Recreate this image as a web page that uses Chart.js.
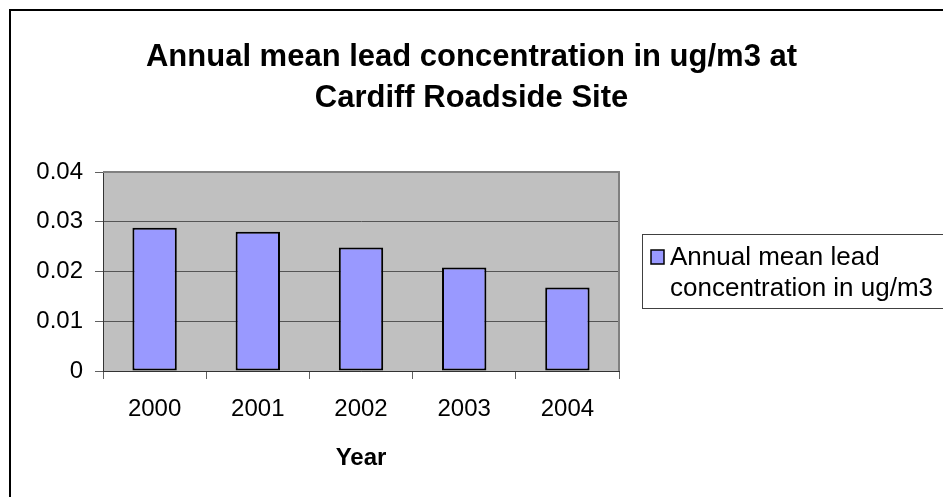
<!DOCTYPE html>
<html>
<head>
<meta charset="utf-8">
<title>Annual mean lead concentration</title>
<script src="https://cdn.jsdelivr.net/npm/chart.js@4.4.0/dist/chart.umd.min.js"></script>
<style>
  html, body { margin: 0; padding: 0; background: #fff; }
  #wrap { width: 943px; height: 497px; }
</style>
</head>
<body>
<div id="wrap"><canvas id="grafico" width="943" height="497"></canvas></div>
<script>
// Data
const years = ['2000', '2001', '2002', '2003', '2004'];
const leadValues = [0.0288, 0.028, 0.0248, 0.0208, 0.0168];
const yTickLabels = ['0', '0.01', '0.02', '0.03', '0.04'];
const titleLines = ['Annual mean lead concentration in ug/m3 at', 'Cardiff Roadside Site'];
const seriesName = 'Annual mean lead concentration in ug/m3';
const legendLines = ['Annual mean lead', 'concentration in ug/m3'];
const xTitle = 'Year';

const FONT = "'Liberation Sans', Arial, Helvetica, sans-serif";
const barColor = '#9999ff';

// Outer frame, title and grey plot area
const framePlugin = {
    id: 'frame',
    beforeDraw(chart) {
        const ctx = chart.ctx;
        const a = chart.chartArea;
        ctx.save();
        ctx.fillStyle = '#fff';
        ctx.fillRect(0, 0, chart.width, chart.height);
        ctx.strokeStyle = '#000';
        ctx.lineWidth = 2;
        ctx.strokeRect(10, 10, chart.width + 20, chart.height + 20);
        ctx.fillStyle = '#c0c0c0';
        ctx.fillRect(a.left, a.top, a.right - a.left, a.bottom - a.top);

        // title centred on the whole picture, not on the plot
        ctx.fillStyle = '#000';
        ctx.font = 'bold 31px ' + FONT;
        ctx.textAlign = 'center';
        ctx.textBaseline = 'middle';
        ctx.fillText(titleLines[0], chart.width / 2, 57);
        ctx.fillText(titleLines[1], chart.width / 2, 98);
        ctx.restore();
    },
    beforeDatasetsDraw(chart) {
        const ctx = chart.ctx;
        const a = chart.chartArea;
        ctx.save();
        ctx.strokeStyle = '#808080';
        ctx.lineWidth = 2;
        ctx.beginPath();
        ctx.moveTo(a.left, a.top);
        ctx.lineTo(a.right, a.top);
        ctx.lineTo(a.right, a.bottom);
        ctx.stroke();
        ctx.restore();
    }
};

// Legend box on the right, Excel style
const legendPlugin = {
    id: 'legendBox',
    afterDraw(chart) {
        const ctx = chart.ctx;
        const ds = chart.data.datasets[0];
        ctx.save();
        ctx.strokeStyle = '#404040';
        ctx.lineWidth = 1;
        ctx.strokeRect(642.5, 234.5, 400, 74);
        ctx.fillStyle = ds.backgroundColor;
        ctx.fillRect(651, 250, 13, 14);
        ctx.strokeStyle = '#000';
        ctx.lineWidth = 1.5;
        ctx.strokeRect(651, 250, 13, 14);
        ctx.fillStyle = '#000';
        ctx.font = '26px ' + FONT;
        ctx.textBaseline = 'middle';
        ctx.fillText(legendLines[0], 670, 258);
        ctx.fillText(legendLines[1], 670, 289);
        ctx.restore();
    }
};

const ctx = document.getElementById('grafico').getContext('2d');
const grafico = new Chart(ctx, {
    type: 'bar',
    data: {
        labels: years,
        datasets: [{
            label: seriesName,
            data: leadValues,
            backgroundColor: barColor,
            borderColor: '#000',
            borderWidth: 2,
            borderSkipped: false,
            barPercentage: 0.43,
            categoryPercentage: 1
        }]
    },
    options: {
        responsive: false,
        devicePixelRatio: 1,
        animation: false,
        layout: {
            padding: { left: 0, right: 324, top: 172, bottom: 20 }
        },
        plugins: {
            legend: { display: false },
            tooltip: { enabled: false },
            title: { display: false }
        },
        scales: {
            x: {
                grid: {
                    offset: true,
                    drawOnChartArea: false,
                    tickLength: 8,
                    tickColor: '#606060'
                },
                border: { color: '#333', width: 1 },
                ticks: {
                    color: '#000',
                    font: { family: FONT, size: 24 },
                    padding: 16,
                    maxRotation: 0
                },
                title: {
                    display: true,
                    text: xTitle,
                    color: '#000',
                    font: { family: FONT, size: 24, weight: 'bold' },
                    padding: { top: 14 }
                },
                afterFit(scale) { scale.height = 106; }
            },
            y: {
                min: 0,
                max: 0.04,
                grid: {
                    color: '#555',
                    tickLength: 8,
                    tickColor: '#606060'
                },
                border: { color: '#333', width: 1 },
                ticks: {
                    stepSize: 0.01,
                    color: '#000',
                    font: { family: FONT, size: 24 },
                    padding: 12,
                    callback: (v, i) => yTickLabels[i]
                },
                afterFit(scale) { scale.width = 103; }
            }
        }
    },
    plugins: [framePlugin, legendPlugin]
});
</script>
</body>
</html>
